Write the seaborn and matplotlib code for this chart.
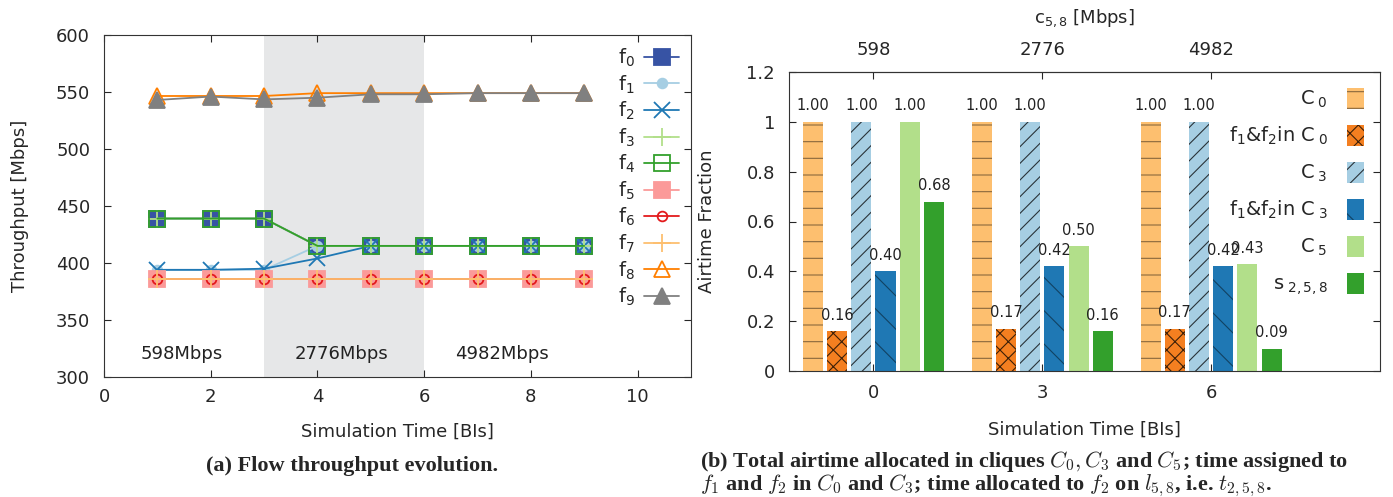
import numpy as np
import pandas as pd
import matplotlib
matplotlib.use("Agg")
import matplotlib.pyplot as plt
import matplotlib.patches as mpatches
from matplotlib.lines import Line2D
import seaborn as sns

# ---- data: flow throughput (left) ----
bi = [1, 2, 3, 4, 5, 6, 7, 8, 9]
f0 = [439, 439, 439, 415, 415, 415, 415, 415, 415]
f1 = [394, 394, 394, 415, 415, 415, 415, 415, 415]
f2 = [394, 394, 395, 404, 415, 415, 415, 415, 415]
f3 = [439, 439, 439, 415, 415, 415, 415, 415, 415]
f4 = [439, 439, 439, 415, 415, 415, 415, 415, 415]
f5 = [386, 386, 386, 386, 386, 386, 386, 386, 386]
f6 = [386, 386, 386, 386, 386, 386, 386, 386, 386]
f7 = [386, 386, 386, 386, 386, 386, 386, 386, 386]
f8 = [546.5, 546.5, 546.5, 549, 549, 549, 549, 549, 549]
f9 = [543, 546, 543.5, 545, 548, 548, 549, 549, 549]
flows = [f0, f1, f2, f3, f4, f5, f6, f7, f8, f9]
phase_labels = ["598Mbps", "2776Mbps", "4982Mbps"]

# ---- data: airtime (right) ----
times = [0, 3, 6]
capacity = ["598", "2776", "4982"]
c0 = [1.00, 1.00, 1.00]
f12_c0 = [0.16, 0.17, 0.17]
c3 = [1.00, 1.00, 1.00]
f12_c3 = [0.40, 0.42, 0.42]
c5 = [1.00, 0.50, 0.43]
s258 = [0.68, 0.16, 0.09]
bar_series = [c0, f12_c0, c3, f12_c3, c5, s258]
bar_names = ["C0", "f1&f2 in C0", "C3", "f1&f2 in C3", "C5", "s258"]
bar_labels = [r"$\mathregular{C_{\ 0}}$", r"$\mathregular{f_1 &f_2 in\ C_{\ 0}}$",
              r"$\mathregular{C_{\ 3}}$", r"$\mathregular{f_1 &f_2 in\ C_{\ 3}}$",
              r"$\mathregular{C_{\ 5}}$", r"$\mathregular{s_{\ 2,5,8}}$"]

sns.set_style("ticks")
plt.rcParams["font.family"] = ["DejaVu Sans"]
plt.rcParams["mathtext.fontset"] = "cm"
plt.rcParams["hatch.linewidth"] = 0.8

fig = plt.figure(figsize=(13.93, 4.97), dpi=100)
ax1 = fig.add_axes([104 / 1393, 1 - 377 / 497, 587 / 1393, 342 / 497])
ax2 = fig.add_axes([789 / 1393, 1 - 371 / 497, 591 / 1393, 299 / 497])

# left panel
ax1.axvspan(3, 6, color="#e6e7e8", zorder=0, lw=0)
colors = ["#3753a4", "#a6cee3", "#1f78b4", "#b2df8a", "#33a02c",
          "#fb9a99", "#e31a1c", "#fdbf6f", "#ff7f00", "#808080"]
markers = ["s", "o", "x", "+", "s", "s", "o", "+", "^", "^"]
msizes = [11, 7, 11, 13, 11, 11, 7, 13, 11, 11]
filled = [True, True, True, True, False, True, False, True, False, True]
handles = []
for i, vals in enumerate(flows):
    mfc = colors[i] if filled[i] else "none"
    sns.lineplot(x=bi, y=vals, ax=ax1, color=colors[i], marker=markers[i],
                 markersize=msizes[i], markerfacecolor=mfc, markeredgecolor=colors[i],
                 markeredgewidth=1.3, linewidth=1.3, zorder=2 + i)
    handles.append(Line2D([], [], color=colors[i], marker=markers[i], markersize=msizes[i],
                          markerfacecolor=mfc, markeredgecolor=colors[i], markeredgewidth=1.3,
                          linewidth=1.3))
flabels = [r"$\mathregular{f_%d}$" % i for i in range(10)]
ax1.legend(handles, flabels, loc="upper right", markerfirst=False, frameon=False,
           fontsize=14, handlelength=1.8, labelspacing=0.22, borderaxespad=0.2,
           handletextpad=0.5)
for xpos, txt in zip([1.45, 4.45, 7.45], phase_labels):
    ax1.text(xpos, 320, txt, ha="center", va="center", fontsize=13, color="#222222")
ax1.set_xlim(0, 11)
ax1.set_ylim(300, 600)
ax1.set_xticks([0, 2, 4, 6, 8, 10])
ax1.set_yticks(range(300, 601, 50))
ax1.set_xlabel("Simulation Time [BIs]", fontsize=13, labelpad=12)
ax1.set_ylabel("Throughput [Mbps]", fontsize=13, labelpad=19)
ax1.tick_params(direction="in", top=True, right=True, labelsize=13, length=5)
ax1.tick_params(axis="x", pad=8)
ax1.tick_params(axis="y", pad=10)

# right panel
df = pd.DataFrame({
    "time": np.repeat(times, len(bar_names)),
    "series": bar_names * len(times),
    "value": [s[j] for j in range(len(times)) for s in bar_series],
})
bar_colors = ["#fdbf6f", "#f47f20", "#a6cee3", "#1f78b4", "#b2df8a", "#33a02c"]
hatches = ["-", "xx", "//", "\\", "", ""]
hatch_cols = [(0, 0, 0, 0.45), (0, 0, 0, 0.75), (0, 0, 0, 0.75), (0, 0, 0, 0.45), None, None]
sns.barplot(data=df, x="time", y="value", hue="series", hue_order=bar_names,
            palette=bar_colors, native_scale=True, width=0.86, gap=0.17,
            saturation=1, ax=ax2, zorder=2)
ax2.get_legend().remove()
for k, cont in enumerate(ax2.containers):
    for p in cont:
        p.set_hatch(hatches[k])
        p.set_edgecolor(hatch_cols[k] if hatches[k] else bar_colors[k])
        p.set_linewidth(0)
    ax2.bar_label(cont, fmt="%.2f", padding=6, fontsize=10.5, color="#222222")

leg_handles = [mpatches.Patch(facecolor=bar_colors[k], hatch=hatches[k],
                              edgecolor=hatch_cols[k] if hatches[k] else bar_colors[k], lw=0)
               for k in range(len(bar_names))]
ax2.legend(leg_handles, bar_labels, loc="upper right", markerfirst=False, frameon=False,
           fontsize=14, handlelength=0.9, handleheight=1.3, labelspacing=0.75,
           borderaxespad=0.4, handletextpad=1.0)
ax2.set_xlim(-1.5, 9)
ax2.set_ylim(0, 1.2)
ax2.set_xticks(times)
ax2.set_xticklabels([str(t) for t in times])
ax2.set_yticks([0, 0.2, 0.4, 0.6, 0.8, 1, 1.2])
ax2.set_yticklabels(["0", "0.2", "0.4", "0.6", "0.8", "1", "1.2"])
ax2.set_xlabel("Simulation Time [BIs]", fontsize=13, labelpad=14)
ax2.set_ylabel("Airtime Fraction", fontsize=13, labelpad=22)
ax2.tick_params(direction="in", right=True, labelsize=13, length=5)
ax2.tick_params(axis="x", pad=9)
ax2.tick_params(axis="y", pad=10)
top = ax2.secondary_xaxis("top")
top.set_xticks(times)
top.set_xticklabels(capacity)
top.tick_params(direction="in", labelsize=13, length=5, pad=9)
top.set_xlabel(r"$\mathregular{c_{5,8}}$ [Mbps]", fontsize=13, labelpad=13)

for ax in (ax1, ax2):
    for sp in ax.spines.values():
        sp.set_visible(True)
        sp.set_color("#333333")

# captions
cap_font = dict(family="Liberation Serif", weight="bold", fontsize=16)
fig.text(352 / 1393, 1 - 466 / 497, "(a) Flow throughput evolution.", ha="center", va="center", **cap_font)
fig.text(700 / 1393, 1 - 461 / 497,
         r"(b) Total airtime allocated in cliques $C_0, C_3$ and $C_5$; time assigned to",
         ha="left", va="center", **cap_font)
fig.text(700 / 1393, 1 - 486 / 497,
         r"$f_1$ and $f_2$ in $C_0$ and $C_3$; time allocated to $f_2$ on $l_{5,8}$, i.e. $t_{2,5,8}$.",
         ha="left", va="center", **cap_font)

fig.savefig("out.png", dpi=100)
